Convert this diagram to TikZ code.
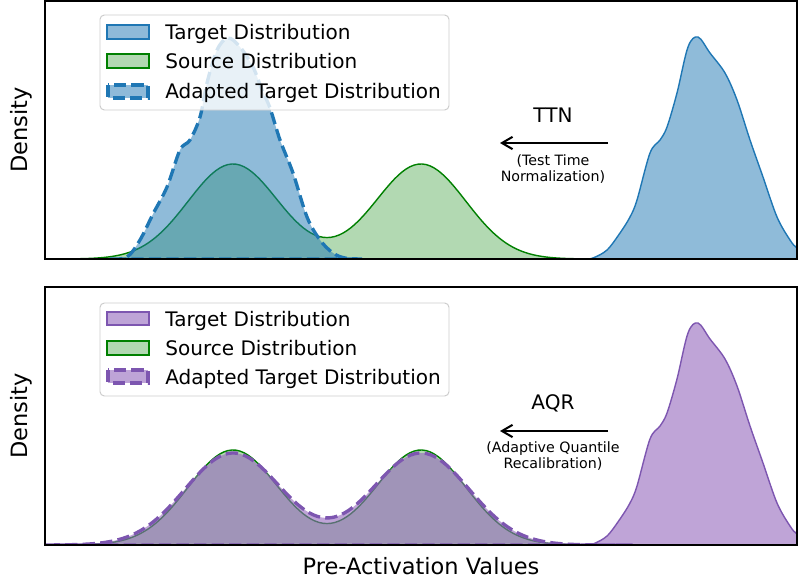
\documentclass[tikz,border=0pt]{standalone}
\usepackage{fontspec}
\setmainfont{DejaVu Sans}
\usepackage{tikz}
\usetikzlibrary{arrows.meta}
\definecolor{tabblue}{HTML}{1F77B4}
\definecolor{srcgreen}{HTML}{008000}
\definecolor{tabpurple}{HTML}{9467BD}
\definecolor{purpleedge}{HTML}{7D56B0}
\definecolor{legendgray}{HTML}{CCCCCC}

% density curves (pixel units, upper panel baseline at 259)
\newcommand{\tgtcurve}{-- plot[smooth, tension=0.55] coordinates {(560,259) (585,259) (593,258)
  (607,250) (620,233) (630,217) (637,200) (650,153) (660,140) (667,127) (677,93) (688,47)
  (698,37) (710,53) (725,73) (737,100) (750,140) (763,177) (777,217) (790,240) (797,248)
  (810,256) (825,259)}}
\newcommand{\adaptcurve}{-- plot[smooth, tension=0.55] coordinates {(110,259) (127,257) (140,240)
  (153,214) (167,187) (180,150) (190,140) (200,117) (207,83) (217,50) (228,38) (240,47)
  (253,67) (262,90) (270,108) (280,140) (293,173) (307,217) (320,240) (333,253) (345,258)
  (362,259)}}
\newcommand{\srccurve}{-- plot[domain=30:620, samples=150]
  (\x, {259-95*(exp(-((\x-233)/63.64)^2)+exp(-((\x-421)/63.64)^2))})}
\newcommand{\aqrcurve}{-- plot[domain=30:633, samples=150]
  (\x, {545-92*(exp(-((\x-233)/67.9)^2)+exp(-((\x-421)/67.9)^2))})}

\begin{document}
\begin{tikzpicture}[x=0.02cm, y=-0.02cm,
    axesframe/.style={draw=black, line width=0.65pt},
    srcarea/.style={fill=srcgreen, fill opacity=0.3, draw=srcgreen, line width=0.8pt},
    tgtarea/.style={fill=#1, fill opacity=0.5, draw=#1, line width=0.8pt},
    adaptarea/.style={fill=#1, fill opacity=0.5, draw=#1, line width=1.9pt,
                      dash pattern=on 7pt off 3pt},
    purplearea/.style={fill=tabpurple, fill opacity=0.6, draw=purpleedge, line width=0.8pt},
    purpledash/.style={purplearea, line width=1.9pt, dash pattern=on 7pt off 3pt},
    legendbox/.style={draw=legendgray, fill=white, fill opacity=0.8,
                      rounded corners=2.5pt, line width=0.55pt},
    legtext/.style={anchor=base west, inner sep=0pt, font=\fontsize{11.4}{13}\selectfont},
    method/.style={anchor=base, inner sep=0pt, font=\fontsize{11.4}{13}\selectfont},
    methodnote/.style={align=center, inner sep=0pt, font=\fontsize{8.1}{9}\selectfont},
    axlabel/.style={anchor=base, inner sep=0pt, font=\fontsize{12.8}{14}\selectfont},
    shiftarrow/.style={-{Straight Barb[length=6pt,width=7pt]}, line width=1.15pt},
]
\useasboundingbox (0,0) rectangle (798,582);

% Upper panel: TTN
\begin{scope}
\clip (45,1) rectangle (797,259);
\path[tgtarea=tabblue] (560,259) \tgtcurve -- cycle;
\path[srcarea] (30,259) \srccurve -- (620,259) -- cycle;
\path[adaptarea=tabblue] (110,259) \adaptcurve -- cycle;
\end{scope}

\draw[legendbox] (100,15) rectangle (449,110);
\path[tgtarea=tabblue] (107,25) rectangle (149,39);
\path[srcarea] (107,54) rectangle (149,68);
\path[adaptarea=tabblue] (108,85) rectangle (148,98);
\node[legtext] (toptgt) at (165,39) {Target Distribution};
\node[legtext] (topsrc) at (165,68) {Source Distribution};
\node[legtext] (topadapt) at (165,98) {Adapted Target Distribution};

\node[method] (ttn) at (553,122) {TTN};
\coordinate (ttnfrom) at (608,143);
\coordinate (ttnto) at (500,143);
\draw[shiftarrow] (ttnfrom) -- (ttnto);
\node[methodnote] (ttnnote) at (553,169) {(Test Time\\Normalization)};

\draw[axesframe] (45,1) rectangle (797,259);
\node[axlabel, rotate=90] (topdens) at (28,130) {Density};

% Lower panel: AQR
\begin{scope}
\clip (45,287) rectangle (797,545);
\path[purplearea, shift={(0,286)}] (560,259) \tgtcurve -- cycle;
\path[srcarea, shift={(0,286)}] (30,259) \srccurve -- (620,259) -- cycle;
\path[purpledash] (30,545) \aqrcurve -- (633,545) -- cycle;
\end{scope}

\draw[legendbox] (100,303) rectangle (449,396);
\path[purplearea] (107,312) rectangle (149,325);
\path[srcarea] (107,341) rectangle (149,355);
\path[purpledash] (108,370) rectangle (148,383);
\node[legtext] (bottgt) at (165,326) {Target Distribution};
\node[legtext] (botsrc) at (165,355) {Source Distribution};
\node[legtext] (botadapt) at (165,384) {Adapted Target Distribution};

\node[method] (aqr) at (553,409) {AQR};
\coordinate (aqrfrom) at (608,431);
\coordinate (aqrto) at (500,431);
\draw[shiftarrow] (aqrfrom) -- (aqrto);
\node[methodnote] (aqrnote) at (553,456) {(Adaptive Quantile\\Recalibration)};

\draw[axesframe] (45,287) rectangle (797,545);
\node[axlabel, rotate=90] (botdens) at (28,416) {Density};

\node[axlabel] (xlab) at (421,574) {Pre-Activation Values};
\end{tikzpicture}
\end{document}
